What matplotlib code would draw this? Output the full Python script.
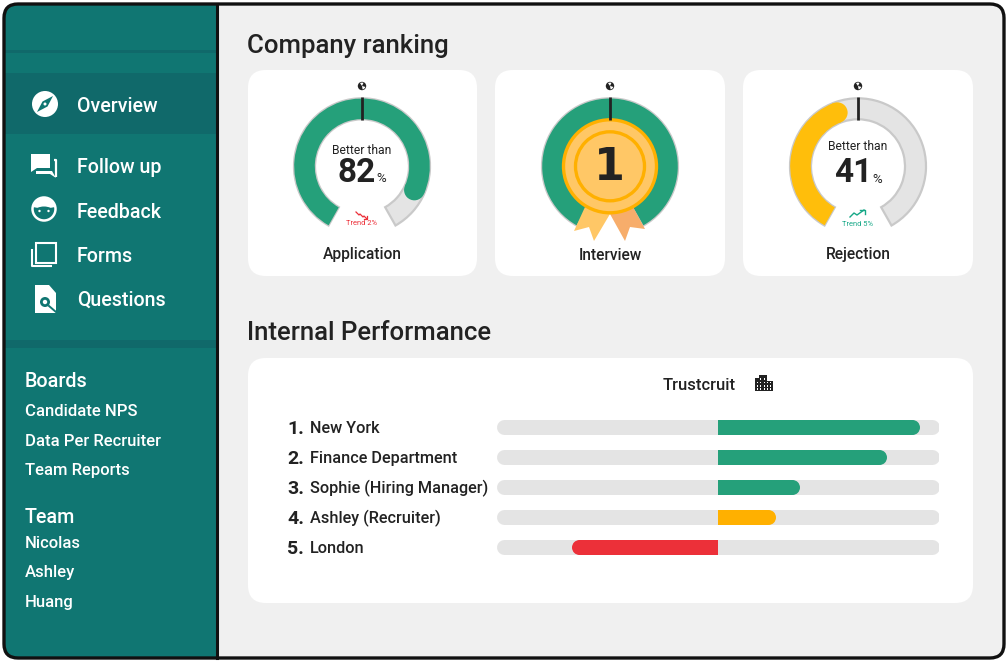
import matplotlib
matplotlib.use("Agg")
import matplotlib.pyplot as plt
from matplotlib.patches import FancyBboxPatch, Rectangle, Wedge, Circle, Polygon, Ellipse
import numpy as np

plt.rcParams['font.family'] = ['Roboto', 'DejaVu Sans']

nav_items = ["Overview", "Follow up", "Feedback", "Forms", "Questions"]
board_items = ["Candidate NPS", "Data Per Recruiter", "Team Reports"]
team_items = ["Nicolas", "Ashley", "Huang"]

gauge_names = ["Application", "Interview", "Rejection"]
gauge_values = [82, 1, 41]
gauge_fill = [88, 100, 43]
gauge_colors = ["#25A07A", "#25A07A", "#FFBE0B"]
gauge_trends = ["Trend 2%", "", "Trend 5%"]

perf_names = ["New York", "Finance Department", "Sophie (Hiring Manager)", "Ashley (Recruiter)", "London"]
perf_values = [91, 76, 37, 26, -66]
perf_colors = ["#25A07A", "#25A07A", "#25A07A", "#FFB000", "#EC3039"]

DARK = "#222222"
TEAL = "#107672"
TEAL_DARK = "#10696A"
GREY = "#E4E4E4"
W = 1007
H = 663

fig = plt.figure(figsize=(W / 100, H / 100), dpi=100, facecolor="white")
ax = fig.add_axes([0, 0, 1, 1])
ax.set_xlim(0, W)
ax.set_ylim(H, 0)
ax.axis("off")


def round_box(x0, y0, x1, y1, r, **kw):
    p = FancyBboxPatch((x0 + r, y0 + r), x1 - x0 - 2 * r, y1 - y0 - 2 * r,
                       boxstyle="round,pad=%f,rounding_size=%f" % (r, r), **kw)
    ax.add_patch(p)
    return p


# frame and sidebar
frame = round_box(4, 4, 1004, 658, 14, fc="#F0F0F0", ec="none", zorder=1)
side = Rectangle((4, 4), 213, 654, fc=TEAL, ec="none", zorder=2)
ax.add_patch(side)
side.set_clip_path(frame)
for y0, y1 in [(50, 53), (73, 134), (340, 348)]:
    ax.add_patch(Rectangle((5, y0), 211, y1 - y0, fc=TEAL_DARK, ec="none", zorder=3))
ax.plot([217, 217], [4, 658], color="#111111", lw=2.2, zorder=4)
round_box(4, 4, 1004, 658, 14, fc="none", ec="#111111", lw=2.4, zorder=5)

# nav text
nav_y = [106.5, 167.5, 212.5, 256.5, 300.5]
for name, y in zip(nav_items, nav_y):
    ax.text(77, y, name, color="white", fontsize=14.1, fontweight="medium", va="center", zorder=6)

ax.text(25, 381.5, "Boards", color="white", fontsize=14.2, fontweight="medium", va="center", zorder=6)
for name, y in zip(board_items, [412, 441, 470]):
    ax.text(25, y, name, color="white", fontsize=12, fontweight="medium", va="center", zorder=6)
ax.text(25, 517.5, "Team", color="white", fontsize=14.2, fontweight="medium", va="center", zorder=6)
for name, y in zip(team_items, [543.5, 573, 602.5]):
    ax.text(25, y, name, color="white", fontsize=12, fontweight="medium", va="center", zorder=6)

# nav icons
ax.add_patch(Circle((45, 104), 13, fc="white", ec="none", zorder=6))
ax.add_patch(Polygon([[53, 96], [47.5, 106.5], [37, 112], [42.5, 101.5]], fc=TEAL, ec="none", zorder=7))
ax.add_patch(Circle((45, 104), 1.5, fc="white", ec="none", zorder=8))

ax.add_patch(Polygon([[31, 154], [50, 154], [50, 168], [37, 168], [31, 172]], fc="white", ec="none", zorder=6))
ax.plot([53.5, 55.5, 55.5], [160, 160, 177], color="white", lw=1.6, zorder=6, solid_capstyle="butt")
ax.add_patch(Polygon([[36, 171], [52, 171], [56, 178], [50, 174], [36, 174]], fc="white", ec="none", zorder=6))

ax.add_patch(Circle((44, 209), 11.5, fc=TEAL, ec="white", lw=1.8, zorder=6))
ax.add_patch(Wedge((44, 209), 12, 190, 350, fc="white", ec="none", zorder=7))
ax.add_patch(Ellipse((44, 211), 18, 9, fc=TEAL, ec="none", zorder=8))
ax.add_patch(Circle((39.5, 211), 1.2, fc="white", zorder=9))
ax.add_patch(Circle((48.5, 211), 1.2, fc="white", zorder=9))

ax.add_patch(Rectangle((36, 243), 20, 20, fc="none", ec="white", lw=1.5, zorder=6))
ax.plot([32, 32, 52], [249, 266, 266], color="white", lw=1.5, zorder=6, solid_capstyle="butt")

ax.add_patch(Polygon([[35, 285], [49, 285], [56, 293], [56, 313], [35, 313]], fc="white", ec="none", zorder=6))
ax.add_patch(Circle((45, 302), 5, fc=TEAL, ec="none", zorder=7))
ax.add_patch(Circle((45, 302), 2.2, fc="white", ec="none", zorder=8))
ax.plot([49, 56], [306, 312], color=TEAL, lw=1.4, zorder=8)

# headers
ax.text(247, 46.5, "Company ranking", color=DARK, fontsize=18.5, fontweight="medium", va="center", zorder=6)
ax.text(247, 333.5, "Internal Performance", color=DARK, fontsize=18.5, fontweight="medium", va="center", zorder=6)

# cards
for x0, x1 in [(248, 477), (495, 725), (743, 973)]:
    round_box(x0, 70, x1, 276, 18, fc="white", ec="none", zorder=2)
round_box(248, 358, 973, 603, 18, fc="white", ec="none", zorder=2)


def globe(x, y):
    ax.add_patch(Circle((x, y), 4.2, fc=DARK, ec="none", zorder=8))
    ax.add_patch(Wedge((x, y), 3.4, 15, 80, fc="white", ec="none", zorder=9))
    ax.add_patch(Wedge((x, y), 3.4, 235, 295, fc="white", ec="none", zorder=9))


# gauges
START = 209.5
SWEEP = 301
R = 68
BAND = 21
centers = [362, 610, 858]
cy = 166.3
for cx, name, val, fill, col, trend in zip(centers, gauge_names, gauge_values, gauge_fill, gauge_colors, gauge_trends):
    ax.add_patch(Wedge((cx, cy), R, START - 90, START + SWEEP - 90, width=BAND,
                       fc=GREY, ec="#C9C9C9", lw=1.6, zorder=3))
    end = START + SWEEP * fill / 100
    ax.add_patch(Wedge((cx, cy), R - 0.2, START - 90, end - 90, width=BAND - 0.4, fc=col, ec="none", zorder=4))
    if fill < 100:
        a = np.radians(end)
        rm = R - BAND / 2
        ax.add_patch(Circle((cx + rm * np.sin(a), cy - rm * np.cos(a)), BAND / 2 - 0.2, fc=col, ec="none", zorder=4))
    globe(cx, 86)
    ax.text(cx, 255, name, color=DARK, fontsize=11.2, fontweight="medium", ha="center", va="center", zorder=9)
    if name != "Interview":
        ax.text(cx, 150 if cx == 362 else 146.5, "Better than", color=DARK, fontsize=8.7, ha="center", va="center", zorder=9)
        y = 172.5 if cx == 362 else 173.5
        ax.text(cx - 5, y, str(val), color=DARK, fontsize=24, fontweight="bold", ha="center", va="center", zorder=9)
        ax.text(cx + 19, y + 6, "%", color=DARK, fontsize=9.5, ha="center", va="center", zorder=9)

# medal drawn over the second gauge
cx = centers[1]
ax.add_patch(Polygon([[585, 207], [574, 231], [589, 227], [594, 241], [610, 214]], fc="#FFC766", ec="none", zorder=5))
ax.add_patch(Polygon([[610, 214], [625, 241], [630, 227], [645, 229], [633, 207]], fc="#F7AD6B", ec="none", zorder=5))
ax.add_patch(Circle((cx, cy), 46.5, fc="#FFC766", ec="#FFB000", lw=2.4, zorder=6))
ax.add_patch(Circle((cx, cy), 34.5, fc="none", ec="#FFB000", lw=2.4, zorder=7))
ax.text(cx - 1, 167, "1", color=DARK, fontsize=32, fontweight="bold", family="DejaVu Sans", ha="center", va="center", zorder=8)

# needles, over the gauges and the medal
for cx in centers:
    ax.plot([cx, cx], [97, 120], color=DARK, lw=2, zorder=10, solid_capstyle="butt")

# trend marks
ax.plot([356, 359, 360, 363, 364, 367], [212, 215, 214, 217, 216, 219], color="#EC3039", lw=0.9, zorder=9)
ax.plot([364, 367, 367], [219, 219, 216], color="#EC3039", lw=0.9, zorder=9)
ax.text(362, 223.5, gauge_trends[0], color="#EC3039", fontsize=5.4, ha="center", va="center", zorder=9)
ax.plot([850, 854, 857, 864], [217, 213, 215, 210], color="#16A887", lw=1, zorder=9)
ax.plot([860, 865, 865], [210, 210, 214], color="#16A887", lw=1, zorder=9)
ax.text(857, 225, gauge_trends[2], color="#16A887", fontsize=5.4, ha="center", va="center", zorder=9)

# performance panel
ax.text(699, 385, "Trustcruit", color=DARK, fontsize=12, fontweight="medium", ha="center", va="center", zorder=6)
ax.add_patch(Polygon([[755, 391], [755, 378], [759, 378], [759, 375], [767, 375], [767, 381], [773, 381], [773, 391]],
                     fc=DARK, ec="none", zorder=6))
for bx in [757, 760, 763.5, 767, 770]:
    for by in [378, 381.5, 385, 388]:
        if (bx > 766 and by == 378) or (bx == 757 and by == 378):
            continue
        ax.add_patch(Rectangle((bx, by), 1.4, 1.6, fc="white", ec="none", zorder=7))

row_y = [428.5, 458.5, 488.5, 518.5, 548.5]
for i, (name, y) in enumerate(zip(perf_names, row_y)):
    ax.text(287, y, "%d." % (i + 1), color=DARK, fontsize=14, fontweight="bold", va="center", zorder=6)
    ax.text(310, y, name, color=DARK, fontsize=11.7, fontweight="medium", va="center", zorder=6)

# bars live in their own axes, value range -100..100
bax = fig.add_axes([496.5 / W, 1 - 562 / H, (939.5 - 496.5) / W, 150 / H], zorder=3)
bax.set_xlim(-100, 100)
bax.set_ylim(4.5, -0.5)
bax.axis("off")
pos = np.arange(len(perf_values))
lw = 15 * 72 / 100
cap = 7.5 * 200 / 443
for p, v, c in zip(pos, perf_values, perf_colors):
    bax.plot([-100 + cap, 100 - cap], [p, p], color=GREY, lw=lw, solid_capstyle="round", zorder=1)
    s = np.sign(v)
    bax.barh(p, v - s * cap, height=0.5, color=c, zorder=2)
    bax.plot([v - s * cap], [p], "o", color=c, ms=15 * 72 / 100, mew=0, zorder=2)

fig.savefig("out.png", dpi=100)
